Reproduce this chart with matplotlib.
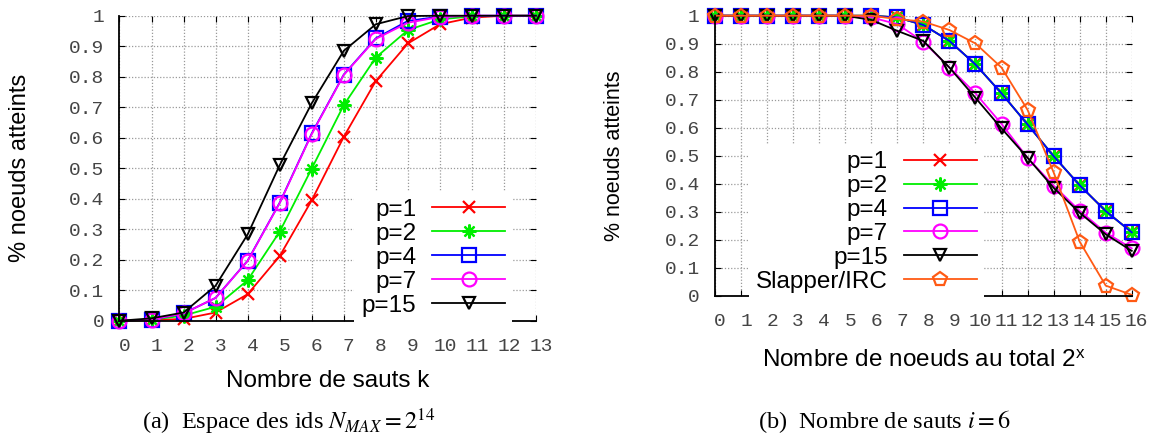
import matplotlib
matplotlib.use("Agg")
import matplotlib.pyplot as plt
from matplotlib.transforms import ScaledTranslation

# ---- data: left panel (Espace des ids N_MAX = 2^14) ----
k_hops = list(range(0, 14))
left_p1 = [0.0, 0.002, 0.006, 0.027, 0.087, 0.212, 0.395, 0.603, 0.786, 0.909, 0.972, 0.994, 1.0, 1.0]
left_p2 = [0.0, 0.003, 0.017, 0.046, 0.133, 0.292, 0.499, 0.707, 0.863, 0.953, 0.988, 0.998, 1.0, 1.0]
left_p4 = [0.0, 0.004, 0.024, 0.075, 0.197, 0.387, 0.614, 0.807, 0.926, 0.983, 0.997, 1.0, 1.0, 1.0]
left_p7 = [0.0, 0.004, 0.024, 0.075, 0.196, 0.386, 0.612, 0.806, 0.924, 0.977, 0.996, 1.0, 1.0, 1.0]
left_p15 = [0.0, 0.008, 0.027, 0.115, 0.283, 0.510, 0.713, 0.885, 0.972, 0.999, 1.0, 1.0, 1.0, 1.0]

# ---- data: right panel (Nombre de sauts i = 6) ----
x_nodes = list(range(0, 17))
right_p1 = [1, 1, 1, 1, 1, 1, 1.0, 0.994, 0.967, 0.910, 0.826, 0.723, 0.612, 0.499, 0.395, 0.303, 0.227]
right_p2 = [1, 1, 1, 1, 1, 1, 1.0, 0.994, 0.967, 0.910, 0.826, 0.723, 0.612, 0.499, 0.395, 0.303, 0.227]
right_p4 = [1, 1, 1, 1, 1, 1, 1.0, 0.994, 0.967, 0.910, 0.826, 0.723, 0.612, 0.499, 0.395, 0.303, 0.227]
right_p7 = [1, 1, 1, 1, 1, 1, 0.994, 0.970, 0.907, 0.815, 0.723, 0.614, 0.493, 0.394, 0.304, 0.226, 0.170]
right_p15 = [1, 1, 1, 1, 1, 1, 0.985, 0.946, 0.910, 0.815, 0.707, 0.598, 0.493, 0.386, 0.297, 0.220, 0.161]
right_slapper = [1, 1, 1, 1, 1, 1, 1.0, 0.988, 0.979, 0.949, 0.901, 0.815, 0.664, 0.441, 0.194, 0.037, 0.004]

y_ticks = [0, 0.1, 0.2, 0.3, 0.4, 0.5, 0.6, 0.7, 0.8, 0.9, 1]
y_tick_labels = ["0", "0.1", "0.2", "0.3", "0.4", "0.5", "0.6", "0.7", "0.8", "0.9", "1"]

series_labels = ["p=1", "p=2", "p=4", "p=7", "p=15", "Slapper/IRC"]
colors = ["#ff0000", "#00ee00", "#0000ff", "#ff00ff", "#000000", "#ff5a14"]
markers = ["x", (8, 2, 0), "s", "o", "v", "p"]
msizes = [9, 10, 10, 10, 9, 10]

SANS = "Liberation Sans"
MONO = "Liberation Mono"
SERIF = "Liberation Serif"

plt.rcParams["mathtext.fontset"] = "stix"

fig = plt.figure(figsize=(11.49, 4.37), dpi=100)
axL = fig.add_axes([0.104, 0.266, 0.3625, 0.698])
axR = fig.add_axes([0.6223, 0.3227, 0.3627, 0.6413])


def style_axes(ax, xticks, xmax):
    ax.set_ylim(0, 1)
    ax.set_xlim(0, xmax)
    ax.set_xticks(xticks)
    ax.set_xticklabels([str(v) for v in xticks])
    ax.set_yticks(y_ticks)
    ax.set_yticklabels(y_tick_labels)
    ax.grid(True, color="#9a9a9a", linestyle=(0, (1, 1.5)), linewidth=0.9)
    ax.set_axisbelow(True)
    for s in ["top", "right"]:
        ax.spines[s].set_visible(False)
    for s in ["left", "bottom"]:
        ax.spines[s].set_linewidth(1.3)
    ax.tick_params(direction="in", length=4, width=0.8, top=True, right=True,
                   labelcolor="#444444", labelsize=14)
    ax.tick_params(axis="x", pad=12.5)
    ax.tick_params(axis="y", pad=11)
    for lab in ax.get_xticklabels() + ax.get_yticklabels():
        lab.set_fontfamily(MONO)
    off = ScaledTranslation(5 / 100, 0, fig.dpi_scale_trans)
    for lab in ax.get_xticklabels():
        lab.set_transform(lab.get_transform() + off)


def plot_series(ax, x, ys, idxs):
    for y, i in zip(ys, idxs):
        ax.plot(x, y, color=colors[i], marker=markers[i], markersize=msizes[i],
                markerfacecolor="none", markeredgecolor=colors[i], markeredgewidth=1.6,
                linewidth=1.3, label=series_labels[i], clip_on=False)


def make_legend(ax, anchor):
    leg = ax.legend(loc="lower right", bbox_to_anchor=anchor, markerfirst=False,
                    handlelength=3.0, handletextpad=0.65, labelspacing=0.08,
                    borderpad=0.3, borderaxespad=0, frameon=True, fancybox=False,
                    prop={"family": SANS, "size": 17.5})
    leg.get_frame().set_edgecolor("none")
    leg.get_frame().set_facecolor("white")
    leg.get_frame().set_alpha(1)
    return leg


# Left panel
style_axes(axL, k_hops, 13)
plot_series(axL, k_hops, [left_p1, left_p2, left_p4, left_p7, left_p15], [0, 1, 2, 3, 4])
axL.set_xlabel("Nombre de sauts k", fontfamily=SANS, fontsize=17.5, labelpad=11)
axL.set_ylabel("% noeuds atteints", fontfamily=SANS, fontsize=17)
axL.yaxis.set_label_coords(-0.212, 0.5)
make_legend(axL, (0.943, -0.01))

# Right panel
style_axes(axR, x_nodes, 16)
plot_series(axR, x_nodes, [right_p1, right_p2, right_p4, right_p7, right_p15, right_slapper],
            [0, 1, 2, 3, 4, 5])
axR.set_xlabel("Nombre de noeuds au total 2$^{\\mathregular{x}}$", fontfamily=SANS, fontsize=17.5,
               labelpad=14)
axR.set_ylabel("% noeuds atteints", fontfamily=SANS, fontsize=15.5)
axR.yaxis.set_label_coords(-0.216, 0.5)
make_legend(axR, (0.645, -0.015))

# Captions
fig.text(289 / 1149, 1 - 429 / 437, "(a)  Espace des ids $N_{MAX}=2^{14}$",
         ha="center", va="baseline", fontfamily=SERIF, fontsize=17.5)
fig.text(885 / 1149, 1 - 428 / 437, "(b)  Nombre de sauts $i=6$",
         ha="center", va="baseline", fontfamily=SERIF, fontsize=17.5)

fig.savefig("out.png", dpi=100)
